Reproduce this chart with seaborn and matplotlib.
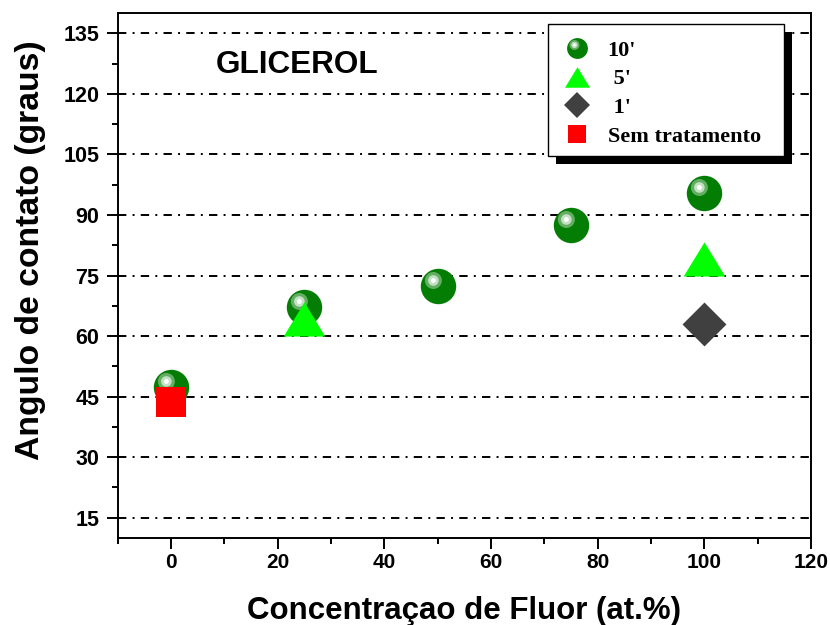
import numpy as np
import pandas as pd
import matplotlib
matplotlib.use("Agg")
import matplotlib.pyplot as plt
import seaborn as sns
from matplotlib.path import Path
from matplotlib.markers import MarkerStyle
from matplotlib.lines import Line2D
from matplotlib.legend_handler import HandlerTuple
from matplotlib.patches import Rectangle
from matplotlib.ticker import MultipleLocator

# ---- data ----
conc_10 = [0, 25, 50, 75, 100]
ang_10 = [47.3, 67.1, 72.5, 87.6, 95.5]
conc_5 = [25, 100]
ang_5 = [64.2, 79.2]
conc_1 = [100]
ang_1 = [63.1]
conc_0 = [0]
ang_0 = [43.6]
labels = ["10'", " 5'", " 1'", "Sem tratamento"]
x_ticks = [0, 20, 40, 60, 80, 100, 120]
y_ticks = [15, 30, 45, 60, 75, 90, 105, 120, 135]

sns.set_theme(style="white")
plt.rcParams['font.family'] = ['Liberation Sans', 'DejaVu Sans']
plt.rcParams['text.color'] = 'black'
plt.rcParams['axes.labelcolor'] = 'black'
plt.rcParams['xtick.color'] = 'black'
plt.rcParams['ytick.color'] = 'black'

W, H = 830, 625
fig = plt.figure(figsize=(8.3, 6.25), dpi=100)
ax = fig.add_axes([0.1416, 0.1397, 0.8355, 0.839])


def highlight_marker(cx, cy, r):
    frame = Path([(1, 0), (-1, 0), (0, 1), (0, -1)], [Path.MOVETO] * 4)
    circ = Path.circle((cx, cy), r)
    return MarkerStyle(Path.make_compound_path(frame, circ))


tri_marker = MarkerStyle(Path([(0, 0.82), (-1, -0.82), (1, -0.82), (0, 0.82)],
                              [Path.MOVETO, Path.LINETO, Path.LINETO, Path.CLOSEPOLY]))

hl1 = highlight_marker(-0.29, 0.34, 0.48)
hl2 = highlight_marker(-0.29, 0.34, 0.30)
hl3 = highlight_marker(-0.29, 0.34, 0.14)

base_col = '#037d03'
hl_cols = ['#64ae64', '#c2e0c2', '#ffffff']

df10 = pd.DataFrame({'c': conc_10, 'a': ang_10})
df5 = pd.DataFrame({'c': conc_5, 'a': ang_5})
df1 = pd.DataFrame({'c': conc_1, 'a': ang_1})
df0 = pd.DataFrame({'c': conc_0, 'a': ang_0})

S_SPH = 650
sns.scatterplot(data=df10, x='c', y='a', marker='o', s=S_SPH, color=base_col,
                linewidth=0, ax=ax, zorder=3)
for m, col in zip([hl1, hl2, hl3], hl_cols):
    sns.scatterplot(data=df10, x='c', y='a', marker=m, s=S_SPH, color=col,
                    linewidth=0, ax=ax, zorder=3)
sns.scatterplot(data=df5, x='c', y='a', marker=tri_marker, s=900, color='#00ff00',
                linewidth=0, ax=ax, zorder=4)
sns.scatterplot(data=df1, x='c', y='a', marker='D', s=500, color='#404040',
                linewidth=0, ax=ax, zorder=4)
sns.scatterplot(data=df0, x='c', y='a', marker='s', s=470, color='#ff0000',
                linewidth=0, ax=ax, zorder=4)

ax.set_xlim(-10, 120)
ax.set_ylim(10, 140)
ax.set_xticks(x_ticks)
ax.set_yticks(y_ticks)
ax.xaxis.set_minor_locator(MultipleLocator(10))
ax.yaxis.set_minor_locator(MultipleLocator(7.5))

for y in y_ticks:
    ax.axhline(y, color='black', lw=1.4, linestyle=(0, (4.3, 3.2, 1.0, 3.2)), zorder=1)

for s in ax.spines.values():
    s.set_visible(True)
    s.set_color('black')
    s.set_linewidth(1.4)

ax.tick_params(axis='both', which='major', direction='out', length=8, width=1.4,
               color='black', bottom=True, left=True, top=False, right=False)
ax.tick_params(axis='both', which='minor', direction='out', length=4, width=1.4,
               color='black', bottom=True, left=True, top=False, right=False)
ax.tick_params(axis='y', which='major', pad=5)
ax.tick_params(axis='x', which='major', pad=3)

for lab in ax.get_yticklabels():
    lab.set_fontsize(15.5)
    lab.set_fontweight('bold')
for lab in ax.get_xticklabels():
    lab.set_fontsize(15)
    lab.set_fontweight('bold')

ax.set_xlabel('Concentraçao de Fluor (at.%)', fontsize=22.5, fontweight='bold', labelpad=17)
ax.set_ylabel('Angulo de contato (graus)', fontsize=24.3, fontweight='bold')
ax.yaxis.set_label_coords(-0.103, 0.549)

ax.text(0.142, 0.902, 'GLICEROL', transform=ax.transAxes, fontsize=22.7,
        fontweight='bold', va='center', ha='left')

# legend frame + shadow drawn manually
lx0, ly0, lx1, ly1 = 548, 24, 784, 156
off = 7.5
ax.add_artist(Rectangle(((lx0 + off) / W, 1 - (ly1 + off) / H), (lx1 - lx0) / W, (ly1 - ly0) / H,
                        transform=fig.transFigure, facecolor='black', edgecolor='none',
                        zorder=5.5, clip_on=False))
ax.add_artist(Rectangle((lx0 / W, 1 - ly1 / H), (lx1 - lx0) / W, (ly1 - ly0) / H,
                        transform=fig.transFigure, facecolor='white', edgecolor='black',
                        linewidth=1.0, zorder=5.6, clip_on=False))

h_sph = (Line2D([], [], marker='o', ms=15, color=base_col, ls='none', mew=0),
         Line2D([], [], marker=hl1, ms=15, color=hl_cols[0], ls='none', mew=0),
         Line2D([], [], marker=hl2, ms=15, color=hl_cols[1], ls='none', mew=0),
         Line2D([], [], marker=hl3, ms=15, color=hl_cols[2], ls='none', mew=0))
h_tri = Line2D([], [], marker=tri_marker, ms=18, color='#00ff00', ls='none', mew=0)
h_dia = Line2D([], [], marker='D', ms=13.5, color='#404040', ls='none', mew=0)
h_sq = Line2D([], [], marker='s', ms=13, color='#ff0000', ls='none', mew=0)

leg = ax.legend([h_sph, h_tri, h_dia, h_sq], labels,
                handler_map={tuple: HandlerTuple(ndivide=1, pad=0)},
                loc='upper left', bbox_to_anchor=((lx0 - 4.5) / W, 1 - ly0 / H),
                bbox_transform=fig.transFigure, borderaxespad=0,
                frameon=False,
                prop={'family': ['Liberation Serif', 'DejaVu Serif'], 'weight': 'bold', 'size': 16},
                handlelength=1.53, handletextpad=0.63, labelspacing=0.37, borderpad=0.72)
leg.set_zorder(6)
for t in leg.get_texts():
    t.set_color('black')

fig.savefig('out.png', dpi=100)
